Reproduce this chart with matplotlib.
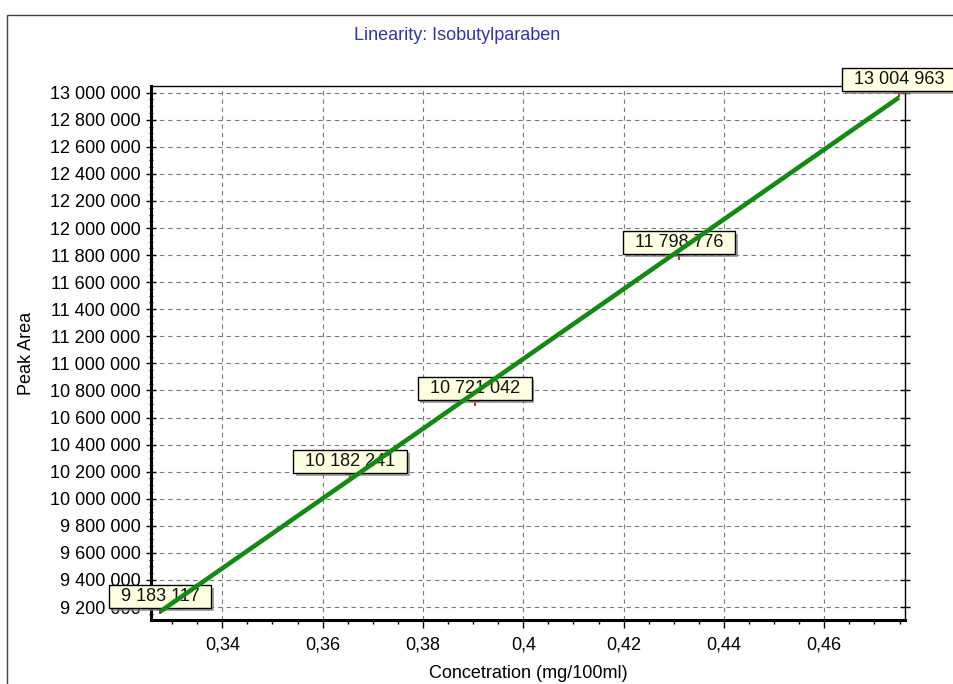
import numpy as np
import matplotlib
matplotlib.use("Agg")
import matplotlib.pyplot as plt
from matplotlib.path import Path
from matplotlib.patches import Rectangle
from matplotlib.ticker import FuncFormatter, MultipleLocator
import matplotlib.patheffects as pe

plt.rcParams['font.family'] = ['Liberation Sans', 'DejaVu Sans']

# calibration points: concentration vs. peak area
conc = [0.3276, 0.3655, 0.3903, 0.4310, 0.4749]
area = [9183117, 10182241, 10721042, 11798776, 13004963]
point_labels = ["9 183 117", "10 182 241", "10 721 042", "11 798 776", "13 004 963"]

title = "Linearity: Isobutylparaben"
xlabel = "Concetration (mg/100ml)"
ylabel = "Peak Area"

W, H = 954, 684
fig = plt.figure(figsize=(W / 100, H / 100), dpi=100)
fig.patch.set_facecolor('white')

# frame around the whole control
fig.add_artist(Rectangle((7 / W, -0.1), 1.1, (H - 15) / H + 0.1,
                         transform=fig.transFigure, fill=False,
                         ec='#404040', lw=1.0))

ax = fig.add_axes([151 / W, 1 - 620 / H, 754 / W, 534 / H])
ax.set_xlim(0.32578, 0.47609)
ax.set_ylim(9104000, 13049500)

# regression line, drawn on top of the value tips
k, b = np.polyfit(conc, area, 1)
xl = np.array([min(conc), max(conc)])
ax.plot(xl, k * xl + b, color='#148a14', lw=3.3, zorder=8, solid_capstyle='butt')
ax.plot(conc, area, ls='none', marker='+', ms=7, mew=1.5, color='#b83030', zorder=2.8)

# grid + ticks
ax.xaxis.set_major_locator(MultipleLocator(0.02))
ax.xaxis.set_minor_locator(MultipleLocator(0.005))
ax.yaxis.set_major_locator(MultipleLocator(200000))
ax.yaxis.set_minor_locator(MultipleLocator(50000))
ax.xaxis.set_major_formatter(FuncFormatter(lambda v, p: f"{v:g}".replace(".", ",")))
ax.yaxis.set_major_formatter(FuncFormatter(lambda v, p: f"{v:,.0f}".replace(",", " ")))
ax.grid(True, which='major', color='#7a7a7a', lw=0.8, ls=(0, (4, 3.5)))

ax.tick_params(axis='x', which='major', direction='out', length=6, width=1,
               pad=6, labelsize=13, colors='black')
ax.tick_params(axis='x', which='minor', direction='out', length=3, width=1)
ax.tick_params(axis='y', which='major', direction='inout', length=7, width=1,
               pad=4, labelsize=13, right=True)
ax.tick_params(axis='y', which='minor', direction='inout', length=2.5, width=0.8)

for side in ['left', 'bottom']:
    ax.spines[side].set_linewidth(2.2)
for side in ['top', 'right']:
    ax.spines[side].set_linewidth(1.0)

ax.set_xlabel(xlabel, fontsize=13, labelpad=8)
ax.set_ylabel(ylabel, fontsize=13, labelpad=10.5)
fig.text(457 / W, 1 - 35 / H, title, color='#3232b8', fontsize=13,
         ha='center', va='center')


def tip_box(x0, y0, width, height, mutation_size):
    # tooltip rectangle: wide horizontal padding, thin vertical padding
    px, py = 12, 3
    return Path([(x0 - px, y0 - py), (x0 + width + px, y0 - py),
                 (x0 + width + px, y0 + height + py), (x0 - px, y0 + height + py),
                 (x0 - px, y0 - py)], closed=True)


for x, y, lab in zip(conc, area, point_labels):
    t = ax.annotate(lab, xy=(x, y), xytext=(0, 4), textcoords='offset pixels',
                    ha='center', va='bottom', fontsize=13, color='#111111',
                    bbox=dict(boxstyle=tip_box, fc='#ffffe1', ec='black', lw=1.0),
                    zorder=6, annotation_clip=False)
    t.get_bbox_patch().set_path_effects([
        pe.SimplePatchShadow(offset=(2, -2), shadow_rgbFace='#808080', alpha=0.7),
        pe.Normal()])

fig.savefig("out.png", dpi=100)
